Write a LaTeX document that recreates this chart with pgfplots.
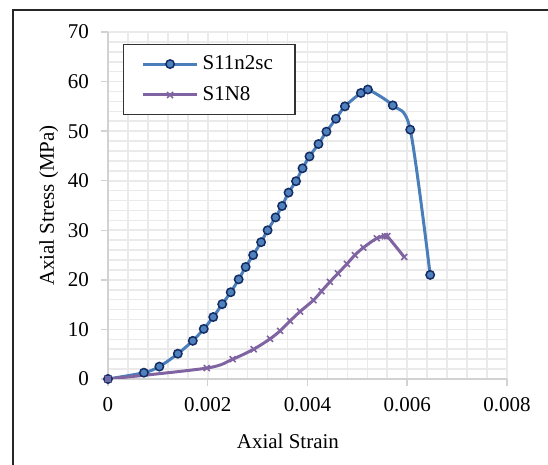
\documentclass[border=0pt]{standalone}
\usepackage{pgfplots}
\pgfplotsset{compat=1.18}
\usepackage{fontspec}
\setmainfont{Liberation Serif}
\definecolor{bluel}{RGB}{74,126,187}
\definecolor{bluef}{RGB}{79,129,189}
\definecolor{blued}{RGB}{20,44,100}
\definecolor{purp}{RGB}{128,100,162}
\definecolor{gridc}{RGB}{234,234,234}
\definecolor{axc}{RGB}{210,210,210}
\begin{document}
\begin{tikzpicture}
\useasboundingbox (-54pt,-43pt) rectangle (220pt,189.5pt);
\draw[line width=0.6pt, black!85] (-47.5pt,-50pt) -- (-47.5pt,184.5pt) -- (230pt,184.5pt);
\begin{axis}[
  at={(0,0)}, anchor=south west,
  scale only axis, width=199.5pt, height=173.5pt,
  xmin=0, xmax=0.008, ymin=0, ymax=70,
  scaled x ticks=false,
  xtick={0,0.002,0.004,0.006,0.008},
  xticklabels={0,0.002,0.004,0.006,0.008},
  ytick={0,10,20,30,40,50,60,70},
  minor x tick num=4, minor y tick num=4,
  grid=both,
  major grid style={gridc, line width=0.8pt},
  minor grid style={gridc, line width=0.8pt},
  axis x line=bottom, axis y line=left,
  axis line style={axc, line width=0.75pt, -},
  tick align=outside, major tick length=3.5pt, minor tick length=0pt,
  tick style={axc, line width=0.75pt},
  /pgf/number format/assume math mode=true,
  tick label style={font=\fontsize{10.5}{12}\selectfont, black},
  yticklabel style={xshift=-2.5pt},
  xticklabel style={yshift=-2pt},
  xlabel={Axial Strain},
  ylabel={Axial Stress (MPa)},
  xlabel style={at={(axis description cs:0.451,-0.181)}, anchor=center, font=\fontsize{10.5}{12}\selectfont},
  ylabel style={at={(axis description cs:-0.148,0.5)}, anchor=center, font=\fontsize{10.5}{12}\selectfont},
  legend image code/.code={\draw[mark repeat=2,mark phase=2] plot coordinates {(0pt,0pt) (13.5pt,0pt) (27pt,0pt)};},
  legend style={at={(0.0376,0.9654)}, anchor=north west, draw=black!80, line width=0.6pt,
    font=\fontsize{10.5}{12}\selectfont, inner xsep=9pt, inner ysep=3.5pt, row sep=3pt},
  legend cell align=left,
]
\addplot[smooth, color=bluel, line width=1.5pt, mark=*, mark size=2.1pt,
  mark options={fill=bluef, draw=blued, line width=0.75pt}] coordinates {
(0,0) (0.00072,1.27) (0.00103,2.5) (0.00140,5.1) (0.00170,7.7) (0.00192,10.1)
(0.00211,12.5) (0.00229,15.1) (0.00246,17.5) (0.00262,20.1) (0.00276,22.6)
(0.00291,25.0) (0.00307,27.6) (0.00320,30.0) (0.00336,32.6) (0.00349,34.9)
(0.00362,37.6) (0.00377,39.9) (0.00390,42.5) (0.00404,44.9) (0.00422,47.4)
(0.00438,49.9) (0.00457,52.5) (0.00475,55.0) (0.00507,57.7) (0.00521,58.4)
(0.00571,55.2) (0.00606,50.3) (0.00646,21.0)
};
\addlegendentry{S11n2sc}
\addplot[smooth, color=purp, line width=1.5pt, mark=x, mark size=2.1pt,
  mark options={line width=0.8pt}] coordinates {
(0,0) (0.00198,2.2) (0.00250,4.0) (0.00292,6.0) (0.00325,8.1) (0.00345,9.7)
(0.00365,11.7) (0.00385,13.6) (0.00412,15.9) (0.00428,17.7) (0.00445,19.6)
(0.00461,21.3) (0.00479,23.2) (0.00495,25.0) (0.00512,26.5) (0.00539,28.4)
(0.00555,28.8) (0.00560,28.8) (0.00594,24.6)
};
\addlegendentry{S1N8}
\end{axis}
\end{tikzpicture}
\end{document}
